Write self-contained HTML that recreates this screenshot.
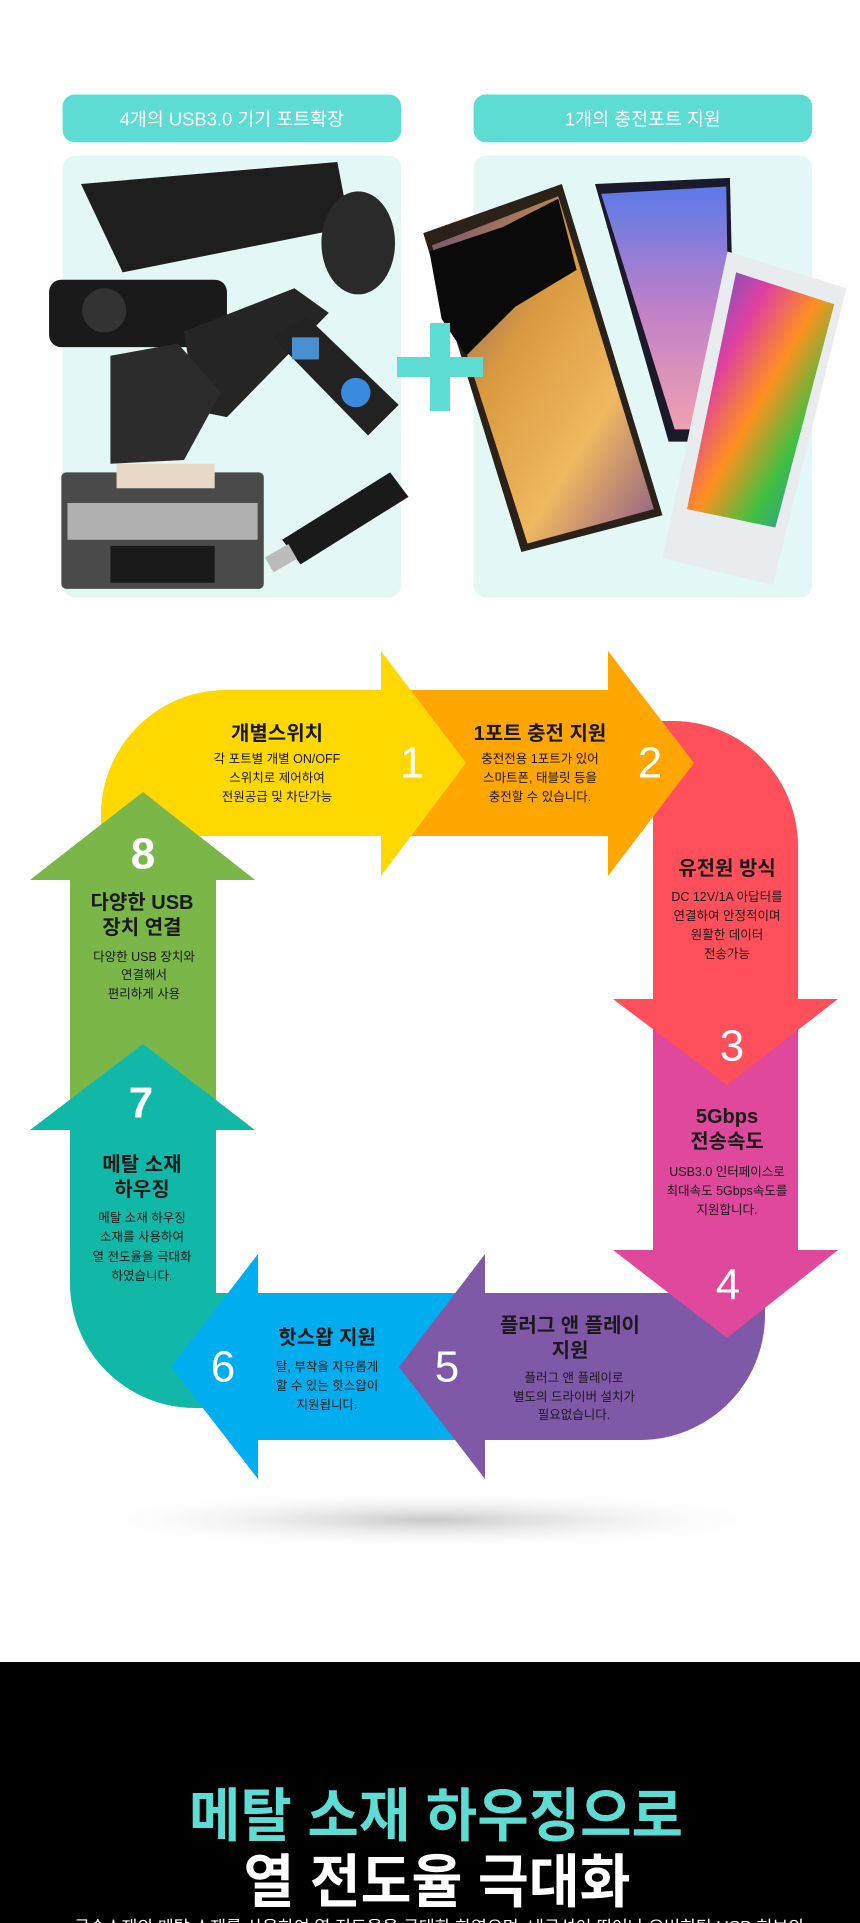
<!DOCTYPE html>
<html><head><meta charset="utf-8"><style>
html,body{margin:0;padding:0;background:#fff;}
svg{display:block;}
text{font-family:"Liberation Sans","Noto Sans CJK KR",sans-serif;}
</style></head><body>
<svg width="860" height="1923" viewBox="0 0 860 1923" xmlns="http://www.w3.org/2000/svg">
<defs>
<radialGradient id="sh" cx="50%" cy="50%" r="50%"><stop offset="0" stop-color="#c8c8c8"/><stop offset="1" stop-color="#fff" stop-opacity="0"/></radialGradient>
<linearGradient id="gold" x1="0" y1="0" x2="1" y2="1"><stop offset="0" stop-color="#6a4a7a"/><stop offset="0.4" stop-color="#d99a40"/><stop offset="0.7" stop-color="#f0b860"/><stop offset="1" stop-color="#8a5a8a"/></linearGradient>
<linearGradient id="pur" x1="0" y1="0" x2="0" y2="1"><stop offset="0" stop-color="#5a7ae8"/><stop offset="0.5" stop-color="#c080c8"/><stop offset="1" stop-color="#f0a0b0"/></linearGradient>
<linearGradient id="rain" x1="0" y1="0" x2="1" y2="1"><stop offset="0" stop-color="#3a60d0"/><stop offset="0.3" stop-color="#e040a0"/><stop offset="0.5" stop-color="#ff9020"/><stop offset="0.7" stop-color="#40c040"/><stop offset="1" stop-color="#2080e0"/></linearGradient>
</defs>

<!-- top section in display coords -->
<g transform="scale(1.2268)">
<rect x="51" y="77" width="276" height="39" rx="10" fill="#5ddcd4"/>
<rect x="386" y="77" width="276" height="39" rx="10" fill="#5ddcd4"/>
<text x="189" y="97" text-anchor="middle" dominant-baseline="central" fill="#fff" font-size="15">4개의 USB3.0 기기 포트확장</text>
<text x="524" y="97" text-anchor="middle" dominant-baseline="central" fill="#fff" font-size="15">1개의 충전포트 지원</text>
<rect x="51" y="127" width="276" height="360" rx="10" fill="#e3f8f6"/>
<rect x="386" y="127" width="276" height="360" rx="10" fill="#e3f8f6"/>
<!-- left devices -->
<polygon points="66,150 275,132 285,185 100,222" fill="#1e1e1e"/>
<ellipse cx="292" cy="198" rx="30" ry="42" fill="#2a2a2a"/>
<rect x="40" y="228" width="145" height="55" rx="10" fill="#1a1a1a"/>
<circle cx="85" cy="253" r="18" fill="#333"/>
<polygon points="150,270 240,235 268,255 185,340 160,335" fill="#252525"/>
<polygon points="90,290 145,280 180,320 150,375 90,378" fill="#2c2c2c"/>
<polygon points="222,275 250,258 325,330 300,355" fill="#222"/>
<rect x="238" y="275" width="22" height="18" fill="#4a90d0"/>
<circle cx="290" cy="320" r="12" fill="#3a8ae0"/>
<rect x="50" y="385" width="165" height="95" rx="4" fill="#4a4a4a"/>
<rect x="55" y="410" width="155" height="30" fill="#b0b0b0"/>
<rect x="90" y="445" width="85" height="30" fill="#1a1a1a"/>
<rect x="95" y="378" width="80" height="20" fill="#e8d8c8"/>
<polygon points="230,440 318,385 333,405 245,460" fill="#1a1a1a"/>
<rect x="218" y="448" width="22" height="14" fill="#bbb" transform="rotate(-30 229 455)"/>
<!-- right phones -->
<polygon points="485,150 595,145 600,360 545,360" fill="#1a1a2a"/>
<polygon points="490,158 592,152 595,350 550,350" fill="url(#pur)"/>
<polygon points="345,190 458,150 540,420 425,450" fill="#2a2218"/>
<polygon points="352,200 455,160 533,415 430,443" fill="url(#gold)"/>
<polygon points="350,205 410,185 455,162 470,220 420,250 380,290 360,260" fill="#0a0a0a"/>
<polygon points="593,205 690,235 630,477 540,455" fill="#e8ecef"/>
<polygon points="600,222 680,248 632,430 560,415" fill="url(#rain)"/>
</g>
<!-- plus -->
<rect x="397" y="357" width="86" height="20" fill="#5ddcd4"/>
<rect x="430" y="323" width="20" height="88" fill="#5ddcd4"/>

<!-- shadow -->
<ellipse cx="430" cy="1520" rx="370" ry="30" fill="url(#sh)"/>

<!-- arrows -->
<path d="M70 1130 L70 880 L30 880 L143 792 L255 880 L216 880 L216 1130 Z" fill="#7ab648"/>
<path d="M70 1130 L70 1283 A125 125 0 0 0 195 1408 L300 1408 L300 1293 L216 1293 L216 1130 L255 1130 L143 1044 L30 1130 Z" fill="#11b8a8"/>
<path d="M520 1293 L258 1293 L258 1254 L171 1367 L258 1479 L258 1440 L520 1440 Z" fill="#00aeef"/>
<path d="M485 1293 L765 1293 L765 1315 A125 125 0 0 1 640 1440 L485 1440 L485 1479 L399 1367 L485 1254 Z" fill="#7f58a8"/>
<path d="M653 980 L798 980 L798 1250 L838 1250 L727 1338 L613 1250 L653 1250 Z" fill="#df489b"/>
<path d="M640 721 L673 721 A125 125 0 0 1 798 846 L798 999 L838 999 L727 1085 L613 999 L653 999 L653 721 Z" fill="#ff4f5a"/>
<path d="M381 690 L608 690 L608 651 L694 763 L608 876 L608 836 L381 836 Z" fill="#ffa600"/>
<path d="M101 836 L101 815 A125 125 0 0 1 226 690 L381 690 L381 651 L466 763 L381 876 L381 836 Z" fill="#ffd800"/>
<path d="M70 960 L70 880 L30 880 L143 792 L255 880 L216 880 L216 960 Z" fill="#7ab648"/>

<!-- labels -->
<g fill="#1a1a1a" text-anchor="middle" dominant-baseline="central">
<text x="277" y="734" font-size="20" font-weight="bold">개별스위치</text>
<text x="277" y="759" font-size="12.5">각 포트별 개별 ON/OFF</text>
<text x="277" y="778" font-size="12.5">스위치로 제어하여</text>
<text x="277" y="797" font-size="12.5">전원공급 및 차단가능</text>
<text x="540" y="734" font-size="20" font-weight="bold">1포트 충전 지원</text>
<text x="540" y="759" font-size="12.5">충전전용 1포트가 있어</text>
<text x="540" y="778" font-size="12.5">스마트폰, 태블릿 등을</text>
<text x="540" y="797" font-size="12.5">충전할 수 있습니다.</text>
<text x="727" y="869" font-size="20" font-weight="bold">유전원 방식</text>
<text x="727" y="897" font-size="12.5">DC 12V/1A 아답터를</text>
<text x="727" y="916" font-size="12.5">연결하여 안정적이며</text>
<text x="727" y="935" font-size="12.5">원활한 데이터</text>
<text x="727" y="954" font-size="12.5">전송가능</text>
<text x="727" y="1117" font-size="20" font-weight="bold">5Gbps</text>
<text x="727" y="1142" font-size="20" font-weight="bold">전송속도</text>
<text x="727" y="1172" font-size="12.5">USB3.0 인터페이스로</text>
<text x="727" y="1191" font-size="12.5">최대속도 5Gbps속도를</text>
<text x="727" y="1210" font-size="12.5">지원합니다.</text>
<text x="570" y="1326" font-size="20" font-weight="bold">플러그 앤 플레이</text>
<text x="570" y="1351" font-size="20" font-weight="bold">지원</text>
<text x="574" y="1378" font-size="12.5">플러그 앤 플레이로</text>
<text x="574" y="1397" font-size="12.5">별도의 드라이버 설치가</text>
<text x="574" y="1415" font-size="12.5">필요없습니다.</text>
<text x="327" y="1338" font-size="20" font-weight="bold">핫스왑 지원</text>
<text x="327" y="1367" font-size="12.5">탈, 부착을 자유롭게</text>
<text x="327" y="1386" font-size="12.5">할 수 있는 핫스왑이</text>
<text x="327" y="1405" font-size="12.5">지원됩니다.</text>
<text x="142" y="1165" font-size="20" font-weight="bold">메탈 소재</text>
<text x="142" y="1190" font-size="20" font-weight="bold">하우징</text>
<text x="142" y="1218" font-size="12.5">메탈 소재 하우징</text>
<text x="142" y="1237" font-size="12.5">소재를 사용하여</text>
<text x="142" y="1257" font-size="12.5">열 전도율을 극대화</text>
<text x="142" y="1276" font-size="12.5">하였습니다.</text>
<text x="142" y="903" font-size="20" font-weight="bold">다양한 USB</text>
<text x="142" y="928" font-size="20" font-weight="bold">장치 연결</text>
<text x="144" y="957" font-size="12.5">다양한 USB 장치와</text>
<text x="144" y="975" font-size="12.5">연결해서</text>
<text x="144" y="994" font-size="12.5">편리하게 사용</text>
</g>
<g fill="#fff" text-anchor="middle" dominant-baseline="central" font-size="44">
<text x="412" y="763">1</text>
<text x="650" y="763">2</text>
<text x="732" y="1046">3</text>
<text x="728" y="1285">4</text>
<text x="447" y="1367">5</text>
<text x="223" y="1367">6</text>
<text x="141" y="1103" font-weight="bold">7</text>
<text x="143" y="854" font-weight="bold">8</text>
</g>

<!-- black section -->
<rect x="0" y="1662" width="860" height="261" fill="#000"/>
<text x="436" y="1836" fill="#5ddcd4" font-size="58" font-weight="bold" text-anchor="middle" textLength="494" lengthAdjust="spacingAndGlyphs">메탈 소재 하우징으로</text>
<text x="437" y="1902" fill="#fff" font-size="58" font-weight="bold" text-anchor="middle" textLength="387" lengthAdjust="spacingAndGlyphs">열 전도율 극대화</text>
<text x="439" y="1932" fill="#fff" font-size="16" text-anchor="middle" textLength="730" lengthAdjust="spacingAndGlyphs">금속소재의 메탈 소재를 사용하여 열 전도율을 극대화 하였으며, 내구성이 뛰어나 오버히팅 USB 허브의</text>
</svg>
</body></html>
